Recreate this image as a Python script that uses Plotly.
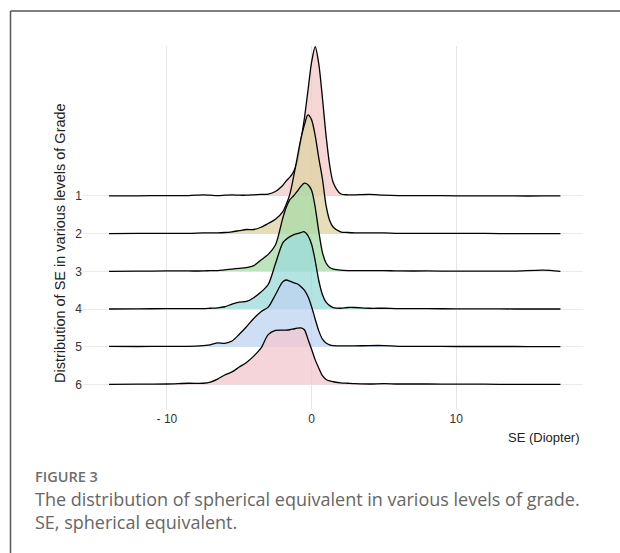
import plotly.graph_objects as go

# ---- data ----
grades = ["1", "2", "3", "4", "5", "6"]
se_grid = [-14, -12, -10, -8.5, -7.5, -7, -6.5, -6, -5.5, -5, -4.5, -4, -3.5, -3, -2.5, -2,
           -1.75, -1.5, -1.25, -1, -0.75, -0.5, -0.25, 0, 0.25, 0.5, 0.75, 1, 1.25, 1.5,
           2, 2.5, 3, 4, 5, 6, 8, 10, 12, 14, 16, 17.2]
dens_g1 = [0.0, 0.005, 0.01, 0.01, 0.03, 0.02, 0.01, 0.02, 0.03, 0.02, 0.02, 0.03, 0.04, 0.05, 0.12, 0.28,
           0.4, 0.5, 0.64, 0.9, 1.45, 2.05, 2.8, 3.55, 3.96, 3.5, 2.6, 1.6, 0.82, 0.35,
           0.06, 0.03, 0.03, 0.04, 0.02, 0.01, 0.01, 0.005, 0.005, 0.0, 0.0, 0.0]
dens_g2 = [0.0, 0.005, 0.01, 0.01, 0.02, 0.02, 0.02, 0.03, 0.05, 0.08, 0.11, 0.11, 0.17, 0.27, 0.38, 0.58,
           0.78, 1.05, 1.5, 2.0, 2.5, 2.88, 3.15, 3.02, 2.6, 2.0, 1.45, 0.75, 0.35, 0.17,
           0.05, 0.03, 0.02, 0.02, 0.02, 0.01, 0.01, 0.005, 0.005, 0.0, 0.0, 0.0]
dens_g3 = [0.0, 0.005, 0.01, 0.01, 0.01, 0.02, 0.02, 0.04, 0.06, 0.08, 0.1, 0.15, 0.3, 0.45, 0.7, 1.4,
           1.7, 1.9, 2.0, 2.12, 2.25, 2.34, 2.3, 2.15, 1.7, 1.05, 0.5, 0.22, 0.1, 0.06,
           0.03, 0.02, 0.02, 0.02, 0.02, 0.01, 0.01, 0.005, 0.005, 0.005, 0.03, 0.0]
dens_g4 = [0.0, 0.005, 0.01, 0.01, 0.01, 0.02, 0.03, 0.06, 0.13, 0.18, 0.2, 0.3, 0.45, 0.65, 1.2, 1.75,
           1.85, 1.92, 1.97, 2.0, 2.03, 2.05, 1.95, 1.72, 1.28, 0.75, 0.38, 0.18, 0.09, 0.04,
           0.02, 0.04, 0.04, 0.02, 0.02, 0.01, 0.01, 0.005, 0.005, 0.0, 0.0, 0.0]
dens_g5 = [0.01, 0.005, 0.01, 0.01, 0.03, 0.05, 0.1, 0.09, 0.15, 0.33, 0.53, 0.75, 0.93, 1.05, 1.38, 1.72,
           1.77, 1.74, 1.7, 1.67, 1.6, 1.5, 1.33, 1.06, 0.73, 0.42, 0.2, 0.1, 0.05, 0.03,
           0.02, 0.02, 0.02, 0.03, 0.03, 0.01, 0.01, 0.005, 0.005, 0.005, 0.0, 0.0]
dens_g6 = [0.0, 0.005, 0.01, 0.03, 0.03, 0.06, 0.14, 0.25, 0.33, 0.46, 0.58, 0.75, 0.96, 1.32, 1.43, 1.44,
           1.44, 1.45, 1.47, 1.49, 1.5, 1.45, 1.2, 0.93, 0.65, 0.43, 0.23, 0.13, 0.09, 0.07,
           0.04, 0.03, 0.02, 0.01, 0.02, 0.01, 0.01, 0.005, 0.005, 0.0, 0.0, 0.0]
x_ticks = [-10, 0, 10]
x_tick_labels = ["- 10", "0", "10"]

densities = [dens_g1, dens_g2, dens_g3, dens_g4, dens_g5, dens_g6]
fills = ["rgba(244,200,200,0.75)", "rgba(222,211,162,0.75)", "rgba(168,219,168,0.75)",
         "rgba(155,219,215,0.75)", "rgba(188,211,242,0.75)", "rgba(243,199,206,0.75)"]

fig = go.Figure()
n = len(grades)
for i, (g, d) in enumerate(zip(grades, densities)):
    assert len(d) == len(se_grid)
    base = n - 1 - i
    fig.add_trace(go.Scatter(x=se_grid, y=[base] * len(se_grid), mode="lines",
                             line=dict(width=0, color="rgba(0,0,0,0)"), hoverinfo="skip",
                             showlegend=False))
    fig.add_trace(go.Scatter(x=se_grid, y=[base + v for v in d], mode="lines",
                             line=dict(color="black", width=1.3, shape="spline", smoothing=0.8),
                             fill="tonexty", fillcolor=fills[i], name=g, showlegend=False))

W, H = 620, 553
L, R, T, B = 83, 37, 46, 143
pw, ph = W - L - R, H - T - B

def px(x):
    return (x - L) / pw

def py(y):
    return (H - B - y) / ph

fig.update_layout(
    width=W, height=H, margin=dict(l=L, r=R, t=T, b=B),
    paper_bgcolor="white", plot_bgcolor="white",
    font=dict(family="Liberation Sans, Arial, sans-serif", color="#333333"),
    xaxis=dict(range=[-15.8, 18.76], tickvals=x_ticks, ticktext=x_tick_labels,
               showgrid=True, gridcolor="#E6E6E6", gridwidth=1, zeroline=False,
               showline=False, ticks="", tickfont=dict(size=12, color="#333333")),
    yaxis=dict(range=[-0.68, 8.98], tickvals=list(range(n - 1, -1, -1)), ticktext=grades,
               showgrid=True, gridcolor="#EBEBEB", gridwidth=1, zeroline=False,
               showline=False, ticks="", tickfont=dict(size=12, color="#333333")),
)

annotations = [
    dict(text="SE (Diopter)", x=px(582), y=py(437), xanchor="right", yanchor="middle",
         font=dict(size=13, color="#222222")),
    dict(text="Distribution of SE in various levels of Grade", x=px(60), y=py(243),
         xanchor="center", yanchor="middle", textangle=-90, font=dict(size=14.5, color="#222222")),
    dict(text="FIGURE 3", x=px(33), y=py(476), xanchor="left", yanchor="middle",
         font=dict(family="Open Sans, Noto Sans, sans-serif", size=14.5, color="#6E6E6E", weight=600)),
    dict(text="The distribution of spherical equivalent in various levels of grade.<br>"
              "SE, spherical equivalent.",
         x=px(33), y=py(511), xanchor="left", yanchor="middle", align="left",
         font=dict(family="Open Sans, Noto Sans, sans-serif", size=18, color="#666666")),
]
for a in annotations:
    a.update(xref="paper", yref="paper", showarrow=False)
fig.update_layout(annotations=annotations)

fig.update_layout(shapes=[
    dict(type="line", xref="paper", yref="paper", x0=px(10.5), x1=px(700), y0=py(11), y1=py(11),
         line=dict(color="#555555", width=1.5)),
    dict(type="line", xref="paper", yref="paper", x0=px(10.5), x1=px(10.5), y0=py(11), y1=py(700),
         line=dict(color="#555555", width=1.5)),
])

fig.write_html("out.html")
